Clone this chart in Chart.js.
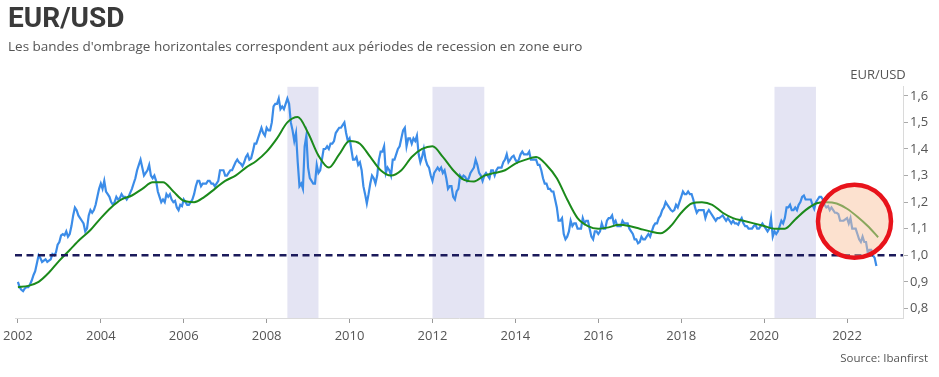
<!DOCTYPE html>
<html lang="fr">
<head>
<meta charset="utf-8">
<title>EUR/USD</title>
<script src="https://cdn.jsdelivr.net/npm/chart.js@4.4.1/dist/chart.umd.min.js"></script>
<style>
    body { margin: 0; background: #fff; }
    #wrap { width: 939px; height: 377px; }
</style>
</head>
<body>
<div id="wrap"><canvas id="eurusdChart" width="939" height="377"></canvas></div>
<script>
// Cours EUR/USD, deux relevés par mois (début et milieu de mois), janv. 2002 -> sept. 2022
const rateStart = 2002;
const eurusd = [
    0.90, 0.88, 0.87, 0.865, 0.875, 0.88, 0.88, 0.89, 0.905, 0.925, 0.94, 0.97, 1.00, 0.99, 0.975, 0.98, 0.985, 0.975, 0.98, 0.985, 1.005, 1.00, 1.01, 1.04, // 2002
    1.05, 1.075, 1.08, 1.075, 1.09, 1.07, 1.08, 1.11, 1.15, 1.18, 1.17, 1.15, 1.14, 1.13, 1.12, 1.09, 1.10, 1.15, 1.17, 1.16, 1.17, 1.19, 1.22, 1.25, // 2003
    1.27, 1.25, 1.28, 1.24, 1.23, 1.22, 1.20, 1.19, 1.20, 1.22, 1.21, 1.215, 1.23, 1.22, 1.22, 1.21, 1.22, 1.235, 1.25, 1.27, 1.29, 1.32, 1.34, 1.36, // 2004
    1.33, 1.30, 1.31, 1.32, 1.34, 1.30, 1.29, 1.30, 1.28, 1.24, 1.22, 1.20, 1.21, 1.20, 1.23, 1.22, 1.23, 1.21, 1.20, 1.205, 1.18, 1.17, 1.19, 1.185, // 2005
    1.21, 1.20, 1.19, 1.19, 1.20, 1.21, 1.23, 1.26, 1.28, 1.28, 1.26, 1.27, 1.27, 1.27, 1.28, 1.28, 1.27, 1.27, 1.26, 1.27, 1.28, 1.32, 1.32, 1.32, // 2006
    1.30, 1.30, 1.31, 1.32, 1.32, 1.335, 1.35, 1.36, 1.35, 1.345, 1.335, 1.35, 1.37, 1.38, 1.36, 1.365, 1.39, 1.42, 1.42, 1.44, 1.46, 1.48, 1.46, 1.45, // 2007
    1.48, 1.47, 1.47, 1.50, 1.56, 1.57, 1.57, 1.59, 1.55, 1.56, 1.55, 1.57, 1.59, 1.57, 1.50, 1.47, 1.43, 1.46, 1.35, 1.26, 1.27, 1.25, 1.41, 1.45, // 2008
    1.33, 1.29, 1.28, 1.27, 1.27, 1.34, 1.31, 1.32, 1.36, 1.40, 1.40, 1.41, 1.40, 1.42, 1.42, 1.43, 1.46, 1.47, 1.48, 1.48, 1.49, 1.50, 1.46, 1.43, // 2009
    1.44, 1.40, 1.36, 1.36, 1.37, 1.34, 1.35, 1.32, 1.26, 1.23, 1.195, 1.23, 1.27, 1.30, 1.29, 1.27, 1.30, 1.36, 1.39, 1.39, 1.41, 1.31, 1.33, 1.32, // 2010
    1.30, 1.36, 1.36, 1.38, 1.40, 1.41, 1.44, 1.47, 1.48, 1.41, 1.44, 1.44, 1.42, 1.44, 1.43, 1.45, 1.38, 1.35, 1.37, 1.40, 1.36, 1.34, 1.33, 1.30, // 2011
    1.28, 1.31, 1.32, 1.33, 1.32, 1.33, 1.31, 1.32, 1.29, 1.25, 1.26, 1.26, 1.22, 1.21, 1.24, 1.25, 1.30, 1.29, 1.30, 1.295, 1.28, 1.29, 1.31, 1.32, // 2012
    1.33, 1.36, 1.34, 1.31, 1.30, 1.28, 1.30, 1.31, 1.30, 1.29, 1.32, 1.32, 1.30, 1.32, 1.33, 1.33, 1.33, 1.35, 1.36, 1.38, 1.35, 1.36, 1.37, 1.375, // 2013
    1.36, 1.35, 1.36, 1.38, 1.39, 1.38, 1.38, 1.38, 1.39, 1.36, 1.36, 1.36, 1.36, 1.34, 1.34, 1.32, 1.29, 1.27, 1.27, 1.25, 1.25, 1.24, 1.24, 1.21, // 2014
    1.18, 1.13, 1.13, 1.14, 1.08, 1.06, 1.07, 1.09, 1.13, 1.11, 1.12, 1.12, 1.10, 1.10, 1.10, 1.14, 1.12, 1.13, 1.13, 1.10, 1.07, 1.06, 1.09, 1.09, // 2015
    1.08, 1.09, 1.12, 1.10, 1.10, 1.13, 1.14, 1.14, 1.15, 1.12, 1.13, 1.11, 1.11, 1.11, 1.13, 1.12, 1.12, 1.12, 1.10, 1.09, 1.08, 1.06, 1.06, 1.045, // 2016
    1.05, 1.07, 1.06, 1.06, 1.07, 1.08, 1.07, 1.09, 1.11, 1.12, 1.12, 1.14, 1.15, 1.17, 1.18, 1.20, 1.19, 1.18, 1.17, 1.165, 1.17, 1.19, 1.18, 1.20, // 2017
    1.22, 1.24, 1.23, 1.23, 1.24, 1.23, 1.23, 1.21, 1.18, 1.16, 1.17, 1.17, 1.17, 1.17, 1.14, 1.16, 1.17, 1.16, 1.15, 1.14, 1.13, 1.14, 1.14, 1.145, // 2018
    1.15, 1.14, 1.13, 1.14, 1.13, 1.12, 1.13, 1.12, 1.12, 1.115, 1.13, 1.14, 1.12, 1.11, 1.11, 1.10, 1.10, 1.10, 1.11, 1.115, 1.10, 1.10, 1.11, 1.12, // 2019
    1.11, 1.10, 1.09, 1.10, 1.14, 1.07, 1.09, 1.08, 1.09, 1.11, 1.13, 1.12, 1.14, 1.18, 1.18, 1.19, 1.17, 1.17, 1.18, 1.17, 1.19, 1.20, 1.22, 1.225, // 2020
    1.21, 1.21, 1.21, 1.21, 1.19, 1.175, 1.20, 1.21, 1.22, 1.22, 1.21, 1.19, 1.18, 1.185, 1.17, 1.18, 1.17, 1.16, 1.16, 1.155, 1.13, 1.13, 1.13, 1.135, // 2021
    1.14, 1.12, 1.14, 1.10, 1.10, 1.10, 1.08, 1.06, 1.05, 1.07, 1.05, 1.05, 1.01, 1.02, 1.02, 1.00, 0.99, 0.96 // 2022
];

// Moyenne mobile (courbe verte), un relevé par trimestre
const avgStart = 2002;
const movingAvg = [
    0.88, 0.885, 0.90, 0.935,   // 2002
    0.98, 1.02, 1.06, 1.095,    // 2003
    1.14, 1.18, 1.21, 1.225,    // 2004
    1.25, 1.275, 1.275, 1.24,   // 2005
    1.205, 1.20, 1.22, 1.25,    // 2006
    1.28, 1.30, 1.33, 1.355,    // 2007
    1.39, 1.44, 1.50, 1.52,     // 2008
    1.46, 1.375, 1.33, 1.38,    // 2009
    1.43, 1.42, 1.37, 1.32,     // 2010
    1.30, 1.32, 1.37, 1.40,     // 2011
    1.41, 1.37, 1.32, 1.285,    // 2012
    1.278, 1.30, 1.31, 1.32,    // 2013
    1.345, 1.36, 1.37, 1.34,    // 2014
    1.29, 1.21, 1.14, 1.11,     // 2015
    1.10, 1.105, 1.115, 1.11,   // 2016
    1.10, 1.09, 1.083, 1.11,    // 2017
    1.16, 1.195, 1.20, 1.19,    // 2018
    1.16, 1.14, 1.13, 1.12,     // 2019
    1.11, 1.10, 1.10, 1.135,    // 2020
    1.17, 1.195, 1.20, 1.195,   // 2021
    1.175, 1.145, 1.11, 1.068   // 2022
];

// Récessions en zone euro (bandes grises)
const recessionStart = [2008.5, 2012.0, 2020.25];
const recessionEnd = [2009.25, 2013.25, 2021.25];

const parityLevel = 1.0;                       // ligne pointillée
const highlight = { x: 2022.18, y: 1.128 };    // centre du cercle rouge

const xTicks = [2002, 2004, 2006, 2008, 2010, 2012, 2014, 2016, 2018, 2020, 2022];
const yTicks = [0.8, 0.9, 1.0, 1.1, 1.2, 1.3, 1.4, 1.5, 1.6];

const xMin = 2001.93, xMax = 2023.35;
const yMin = 0.764, yMax = 1.634;

Chart.defaults.font.family = "'Open Sans', sans-serif";
Chart.defaults.color = '#555';

// bandes de récession derrière les courbes
const recessionBands = {
    id: 'recessionBands',
    beforeDatasetsDraw(chart) {
        const { ctx, chartArea, scales } = chart;
        ctx.save();
        ctx.fillStyle = '#e4e4f3';
        recessionStart.forEach((start, i) => {
            const x1 = scales.x.getPixelForValue(start);
            const x2 = scales.x.getPixelForValue(recessionEnd[i]);
            ctx.fillRect(x1, chartArea.top, x2 - x1, chartArea.bottom - chartArea.top);
        });
        ctx.restore();
    }
};

// cercle rouge au-dessus des courbes (un point scatter gonflerait les marges)
const highlightCircle = {
    id: 'highlightCircle',
    afterDatasetsDraw(chart) {
        const { ctx, scales } = chart;
        const cx = scales.x.getPixelForValue(highlight.x);
        const cy = scales.y.getPixelForValue(highlight.y);
        ctx.save();
        ctx.beginPath();
        ctx.arc(cx, cy, 36.5, 0, Math.PI * 2);
        ctx.fillStyle = 'rgba(250, 195, 160, 0.5)';
        ctx.fill();
        ctx.lineWidth = 4.5;
        ctx.strokeStyle = '#e8131b';
        ctx.stroke();
        ctx.restore();
    }
};

// titre de l'axe et source
const sideTexts = {
    id: 'sideTexts',
    afterDraw(chart) {
        const { ctx, chartArea } = chart;
        ctx.save();
        ctx.fillStyle = '#555';
        ctx.textBaseline = 'middle';
        ctx.font = "13px 'Open Sans'";
        ctx.textAlign = 'center';
        ctx.fillText('EUR/USD', chartArea.right - 25, chartArea.top - 12);
        ctx.font = "11.5px 'Open Sans'";
        ctx.textAlign = 'right';
        ctx.fillText('Source: Ibanfirst', chart.width - 11, chart.height - 18);
        ctx.restore();
    }
};

const ctx = document.getElementById('eurusdChart').getContext('2d');

new Chart(ctx, {
    type: 'line',
    data: {
        datasets: [
            {
                label: 'Parité',
                data: [{ x: xMin, y: parityLevel }, { x: xMax, y: parityLevel }],
                borderColor: '#1b1a5b',
                borderWidth: 2.5,
                borderDash: [7, 4.5],
                pointRadius: 0,
                order: 1
            },
            {
                label: 'Moyenne mobile',
                data: movingAvg.map((v, i) => ({ x: avgStart + i / 4, y: v })),
                borderColor: '#1b8a1b',
                borderWidth: 2,
                pointRadius: 0,
                cubicInterpolationMode: 'monotone',
                order: 2
            },
            {
                label: 'EUR/USD',
                data: eurusd.map((v, i) => ({ x: rateStart + i / 24, y: v })),
                borderColor: '#3b8ce8',
                borderWidth: 2.2,
                pointRadius: 0,
                tension: 0,
                order: 3
            }
        ]
    },
    options: {
        responsive: false,
        animation: false,
        events: [],
        layout: { padding: { left: 8, right: 0, top: 0, bottom: 0 } },
        plugins: {
            legend: { display: false },
            tooltip: { enabled: false },
            title: {
                display: true,
                text: 'EUR/USD',
                align: 'start',
                color: '#3a3a3a',
                font: { family: 'Roboto', size: 28, weight: 'bold' },
                padding: { top: 3, bottom: 0 }
            },
            subtitle: {
                display: true,
                text: "Les bandes d'ombrage horizontales correspondent aux périodes de recession en zone euro",
                align: 'start',
                color: '#555',
                font: { size: 13.5 },
                padding: { top: 2, bottom: 32 }
            }
        },
        scales: {
            x: {
                type: 'linear',
                min: xMin,
                max: xMax,
                afterBuildTicks: scale => { scale.ticks = xTicks.map(v => ({ value: v })); },
                afterFit: scale => {
                    scale.height = 59;
                    scale.paddingLeft = 15;
                    scale.paddingRight = 0;
                },
                grid: { drawOnChartArea: false, tickLength: 5, color: '#999' },
                border: { color: '#dadada' },
                ticks: { color: '#555', font: { size: 13 }, padding: 5, maxRotation: 0, callback: v => String(v) }
            },
            y: {
                position: 'right',
                min: yMin,
                max: yMax,
                afterBuildTicks: scale => { scale.ticks = yTicks.map(v => ({ value: v })); },
                afterFit: scale => { scale.width = 36; },
                grid: { drawOnChartArea: false, tickLength: 5, color: '#aaa' },
                border: { color: '#dadada' },
                ticks: { color: '#555', font: { size: 13 }, padding: 2, callback: v => v.toFixed(1).replace('.', ',') }
            }
        }
    },
    plugins: [recessionBands, highlightCircle, sideTexts]
});
</script>
</body>
</html>
